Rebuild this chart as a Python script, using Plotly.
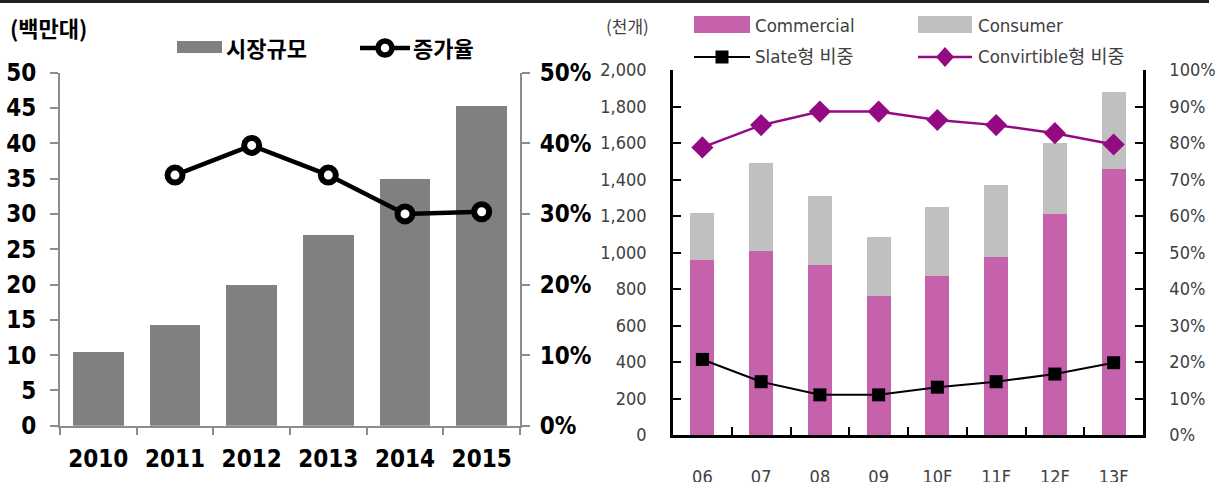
import plotly.graph_objects as go

W, H = 1215, 482

# ---------------- data ----------------
# left chart: market size (million units) and growth rate
years = ["2010", "2011", "2012", "2013", "2014", "2015"]
market_size = [10.5, 14.2, 19.9, 27.0, 34.9, 45.3]
growth_years = ["2011", "2012", "2013", "2014", "2015"]
growth_rate = [0.355, 0.397, 0.355, 0.300, 0.303]

# right chart: shipments (thousand units) and type shares
periods = ["06", "07", "08", "09", "10F", "11F", "12F", "13F"]
commercial = [957, 1010, 931, 760, 871, 975, 1211, 1456]
consumer = [261, 482, 379, 327, 380, 393, 387, 424]
slate_share = [0.207, 0.146, 0.110, 0.110, 0.131, 0.146, 0.167, 0.198]
convertible_share = [0.788, 0.849, 0.886, 0.886, 0.863, 0.849, 0.827, 0.796]

# ---------------- styles ----------------
BOLD_FONT = "DejaVu Sans Condensed, Noto Sans CJK KR, sans-serif"
KR_FONT = "Noto Sans CJK KR, sans-serif"
THIN_FONT = "DejaVu Sans Condensed, Noto Sans CJK KR, sans-serif"
GRAY_AXIS = "#8c8c8c"
BAR_GRAY = "#808080"
PINK = "#C662AB"
LIGHT = "#C0C0C0"
PURPLE = "#930A82"
TXT2 = "#404040"


def px(x):
    return x / W


def py(y):
    return 1 - y / H


fig = go.Figure()

# left chart
fig.add_trace(go.Bar(x=years, y=market_size, width=0.665, marker=dict(color=BAR_GRAY, line=dict(width=0)),
                     xaxis="x", yaxis="y", name="시장규모", showlegend=False))
fig.add_trace(go.Scatter(x=growth_years, y=growth_rate, mode="lines+markers", xaxis="x", yaxis="y2",
                         line=dict(color="black", width=4.5),
                         marker=dict(symbol="circle", size=15, color="white", line=dict(color="black", width=6)),
                         name="증가율", showlegend=False))

# right chart
fig.add_trace(go.Bar(x=periods, y=commercial, width=0.41, marker=dict(color=PINK, line=dict(width=0)),
                     xaxis="x2", yaxis="y3", name="Commercial", showlegend=False))
fig.add_trace(go.Bar(x=periods, y=consumer, width=0.41, marker=dict(color=LIGHT, line=dict(width=0)),
                     xaxis="x2", yaxis="y3", name="Consumer", showlegend=False))
fig.add_trace(go.Scatter(x=periods, y=slate_share, mode="lines+markers", xaxis="x2", yaxis="y4",
                         line=dict(color="black", width=2),
                         marker=dict(symbol="square", size=13, color="black"),
                         name="Slate형 비중", showlegend=False))
fig.add_trace(go.Scatter(x=periods, y=convertible_share, mode="lines+markers", xaxis="x2", yaxis="y4",
                         line=dict(color=PURPLE, width=2.5),
                         marker=dict(symbol="diamond", size=17, color=PURPLE),
                         name="Convirtible형 비중", showlegend=False))

left_tick_font = dict(family=BOLD_FONT, size=24, color="black", weight="bold")
right_tick_font = dict(family=THIN_FONT, size=18, color=TXT2)

LX = [px(60), px(520)]
LY = [py(425.7), py(72.7)]
RX = [px(673), px(1143)]
RY = [py(435), py(70)]

common = dict(showgrid=False, zeroline=False, automargin=False, fixedrange=True)

fig.update_layout(
    width=W, height=H,
    margin=dict(l=0, r=0, t=0, b=0, pad=0, autoexpand=False),
    paper_bgcolor="white", plot_bgcolor="white",
    barmode="stack",
    showlegend=False,
    xaxis=dict(domain=LX, anchor="y", type="category", categoryorder="array", categoryarray=years,
               range=[-0.5, 5.5], showline=True, linecolor=GRAY_AXIS, linewidth=2,
               ticks="outside", tickson="boundaries", ticklen=7, tickwidth=2, tickcolor=GRAY_AXIS,
               tickfont=left_tick_font, ticklabelstandoff=10, **common),
    yaxis=dict(domain=LY, anchor="x", range=[0, 50], dtick=5, showline=True, linecolor=GRAY_AXIS,
               linewidth=2, ticks="outside", ticklen=8, tickwidth=2, tickcolor=GRAY_AXIS,
               tickfont=left_tick_font, ticklabelstandoff=9, **common),
    yaxis2=dict(overlaying="y", anchor="x", side="right", range=[0, 0.5], dtick=0.1, tickformat=".0%",
                showline=True, linecolor=GRAY_AXIS, linewidth=2, ticks="outside", ticklen=8, tickwidth=2,
                tickcolor=GRAY_AXIS, tickfont=left_tick_font, ticklabelstandoff=5, **common),
    xaxis2=dict(domain=RX, anchor="y3", type="category", categoryorder="array", categoryarray=periods,
                range=[-0.5, 7.5], showline=True, linecolor="black", linewidth=2.5,
                ticks="inside", tickson="boundaries", ticklen=8, tickwidth=2, tickcolor="black",
                tickfont=right_tick_font, ticklabelstandoff=24, **common),
    yaxis3=dict(domain=RY, anchor="x2", range=[0, 2000], dtick=200, tickformat=",", showline=True,
                linecolor="black", linewidth=2.5, ticks="inside", ticklen=8, tickwidth=2, tickcolor="black",
                tickfont=right_tick_font, ticklabelstandoff=20, **common),
    yaxis4=dict(overlaying="y3", anchor="x2", side="right", range=[0, 1], dtick=0.1, tickformat=".0%",
                showline=True, linecolor="black", linewidth=2.5, ticks="inside", ticklen=8, tickwidth=2,
                tickcolor="black", tickfont=right_tick_font, ticklabelstandoff=20, **common),
)

shapes = []
# top border line
shapes.append(dict(type="line", xref="paper", yref="paper", x0=0, x1=px(1209), y0=py(1.5), y1=py(1.5),
                   line=dict(color="#222222", width=3)))

# left legend
shapes.append(dict(type="rect", xref="paper", yref="paper", x0=px(177), x1=px(222), y0=py(53), y1=py(41),
                   fillcolor=BAR_GRAY, line=dict(width=0)))
shapes.append(dict(type="line", xref="paper", yref="paper", x0=px(360), x1=px(410), y0=py(48), y1=py(48),
                   line=dict(color="black", width=4.5)))
shapes.append(dict(type="circle", xref="paper", yref="paper", xsizemode="pixel", ysizemode="pixel",
                   xanchor=px(385), yanchor=py(48), x0=-7, x1=7, y0=-7, y1=7,
                   fillcolor="white", line=dict(color="black", width=5.5)))

# right legend
shapes.append(dict(type="rect", xref="paper", yref="paper", x0=px(694), x1=px(750), y0=py(33), y1=py(16),
                   fillcolor=PINK, line=dict(width=0)))
shapes.append(dict(type="rect", xref="paper", yref="paper", x0=px(918), x1=px(972), y0=py(33), y1=py(16),
                   fillcolor=LIGHT, line=dict(width=0)))
shapes.append(dict(type="line", xref="paper", yref="paper", x0=px(694), x1=px(750), y0=py(57), y1=py(57),
                   line=dict(color="black", width=2)))
shapes.append(dict(type="rect", xref="paper", yref="paper", xsizemode="pixel", ysizemode="pixel",
                   xanchor=px(722), yanchor=py(57), x0=-6.5, x1=6.5, y0=-6.5, y1=6.5,
                   fillcolor="black", line=dict(width=0)))
shapes.append(dict(type="line", xref="paper", yref="paper", x0=px(918), x1=px(972), y0=py(57), y1=py(57),
                   line=dict(color=PURPLE, width=2.5)))
shapes.append(dict(type="path", xref="paper", yref="paper", xsizemode="pixel", ysizemode="pixel",
                   xanchor=px(945), yanchor=py(57), path="M0,-10 L9,0 L0,10 L-9,0 Z",
                   fillcolor=PURPLE, line=dict(width=0)))
fig.update_layout(shapes=shapes)

ann = []
ann.append(dict(text="(백만대)", x=px(8), y=py(27), xref="paper", yref="paper", xanchor="left",
                yanchor="middle", showarrow=False, font=dict(family=KR_FONT, size=22, color="black",
                                                             weight="bold")))
ann.append(dict(text="시장규모", x=px(224), y=py(47), xref="paper", yref="paper", xanchor="left",
                yanchor="middle", showarrow=False, font=dict(family=KR_FONT, size=22, color="black",
                                                             weight="bold")))
ann.append(dict(text="증가율", x=px(411), y=py(47), xref="paper", yref="paper", xanchor="left",
                yanchor="middle", showarrow=False, font=dict(family=KR_FONT, size=22, color="black",
                                                             weight="bold")))
ann.append(dict(text="(천개)", x=px(604), y=py(25), xref="paper", yref="paper", xanchor="left",
                yanchor="middle", showarrow=False, font=dict(family=KR_FONT, size=17, color=TXT2)))
for label, x, y in [("Commercial", 753, 25), ("Consumer", 976, 25),
                    ("Slate형 비중", 753, 56), ("Convirtible형 비중", 976, 56)]:
    ann.append(dict(text=label, x=px(x), y=py(y), xref="paper", yref="paper", xanchor="left",
                    yanchor="middle", showarrow=False, font=dict(family=THIN_FONT, size=18.5, color=TXT2)))
fig.update_layout(annotations=ann)

fig.write_html("out.html", config={"displayModeBar": False},
               post_script="document.body.style.margin='0';")
